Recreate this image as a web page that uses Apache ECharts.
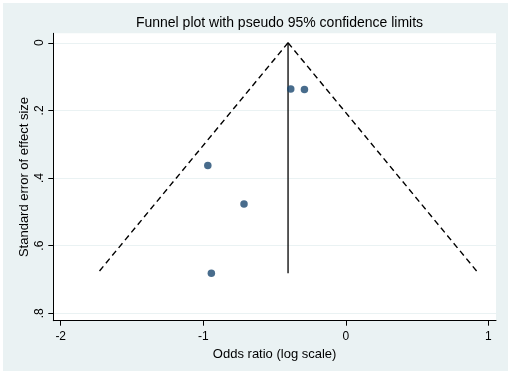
<!DOCTYPE html>
<html>
<head>
<meta charset="utf-8">
<script src="https://cdn.jsdelivr.net/npm/echarts@6/dist/echarts.min.js"></script>
<style>
  html, body { margin: 0; padding: 0; background: #fff; }
  #chart { width: 512px; height: 374px; }
</style>
</head>
<body>
<div id="chart"></div>
<script>
// study estimates (log odds ratio and its standard error)
const logOR = [-0.386, -0.290, -0.968, -0.714, -0.943];
const stdErr = [0.137, 0.138, 0.363, 0.477, 0.682];

// pooled estimate, marks the vertical line and the funnel apex
const pooledLogOR = -0.405;

// axis ticks
const xTicks = [-2, -1, 0, 1];
const yTicks = [0, 0.2, 0.4, 0.6, 0.8];
const yTickLabels = ['0', '.2', '.4', '.6', '.8'];

const maxSE = Math.max(...stdErr);
const z = 1.96;

const chart = echarts.init(document.getElementById('chart'));

const font = 'Liberation Sans, Arial, sans-serif';

const option = {
  animation: false,
  backgroundColor: '#ffffff',
  graphic: [
    {
      type: 'rect',
      shape: { x: 3, y: 3, width: 505, height: 368 },
      style: { fill: '#EAF2F3' },
      z: -10,
      silent: true
    }
  ],
  title: {
    text: 'Funnel plot with pseudo 95% confidence limits',
    left: 274.5,
    top: 11,
    textAlign: 'center',
    textStyle: { fontFamily: font, fontSize: 14, fontWeight: 'normal', color: '#000' }
  },
  grid: {
    left: 53.3,
    right: 16,
    top: 33.3,
    bottom: 53.3,
    show: true,
    backgroundColor: '#ffffff',
    borderWidth: 0
  },
  xAxis: {
    type: 'value',
    min: -2.052,
    max: 1.054,
    name: 'Odds ratio (log scale)',
    nameLocation: 'middle',
    nameGap: 23,
    nameTextStyle: { fontFamily: font, fontSize: 13, color: '#000' },
    axisLine: { show: true, onZero: false, lineStyle: { color: '#000', width: 1 } },
    axisTick: { show: true, length: 5, customValues: xTicks, lineStyle: { color: '#000' } },
    axisLabel: {
      customValues: xTicks,
      fontFamily: font, fontSize: 12, color: '#000', margin: 10,
      formatter: v => String(v)
    },
    splitLine: { show: false }
  },
  yAxis: {
    type: 'value',
    inverse: true,
    min: -0.028,
    max: 0.822,
    name: 'Standard error of effect size',
    nameLocation: 'middle',
    nameRotate: 90,
    nameGap: 22,
    nameMoveOverlap: false,
    nameTextStyle: { fontFamily: font, fontSize: 13, color: '#000' },
    axisLine: { show: true, onZero: false, lineStyle: { color: '#000', width: 1 } },
    axisTick: { show: true, length: 5, customValues: yTicks, lineStyle: { color: '#000' } },
    axisLabel: {
      customValues: yTicks,
      rotate: 90,
      fontFamily: font, fontSize: 12, color: '#000', margin: 8,
      formatter: v => yTickLabels[yTicks.findIndex(t => Math.abs(t - v) < 1e-6)] ?? ''
    },
    splitLine: { show: true, lineStyle: { color: '#EAF2F3', width: 1 } }
  },
  series: [
    {
      name: 'lower limit',
      type: 'line',
      data: [[pooledLogOR, 0], [pooledLogOR - z * maxSE, maxSE]],
      symbol: 'none',
      lineStyle: { color: '#000', width: 1.4, type: [6, 4] },
      z: 3
    },
    {
      name: 'upper limit',
      type: 'line',
      data: [[pooledLogOR, 0], [pooledLogOR + z * maxSE, maxSE]],
      symbol: 'none',
      lineStyle: { color: '#000', width: 1.4, type: [6, 4] },
      z: 3
    },
    {
      name: 'pooled',
      type: 'line',
      data: [[pooledLogOR, 0], [pooledLogOR, maxSE]],
      symbol: 'none',
      lineStyle: { color: '#000', width: 1.3 },
      z: 3
    },
    {
      name: 'studies',
      type: 'scatter',
      data: logOR.map((x, i) => [x, stdErr[i]]),
      symbol: 'circle',
      symbolSize: 7.5,
      itemStyle: { color: '#1A476F' },
      z: 4
    }
  ]
};

chart.setOption(option);
</script>
</body>
</html>
